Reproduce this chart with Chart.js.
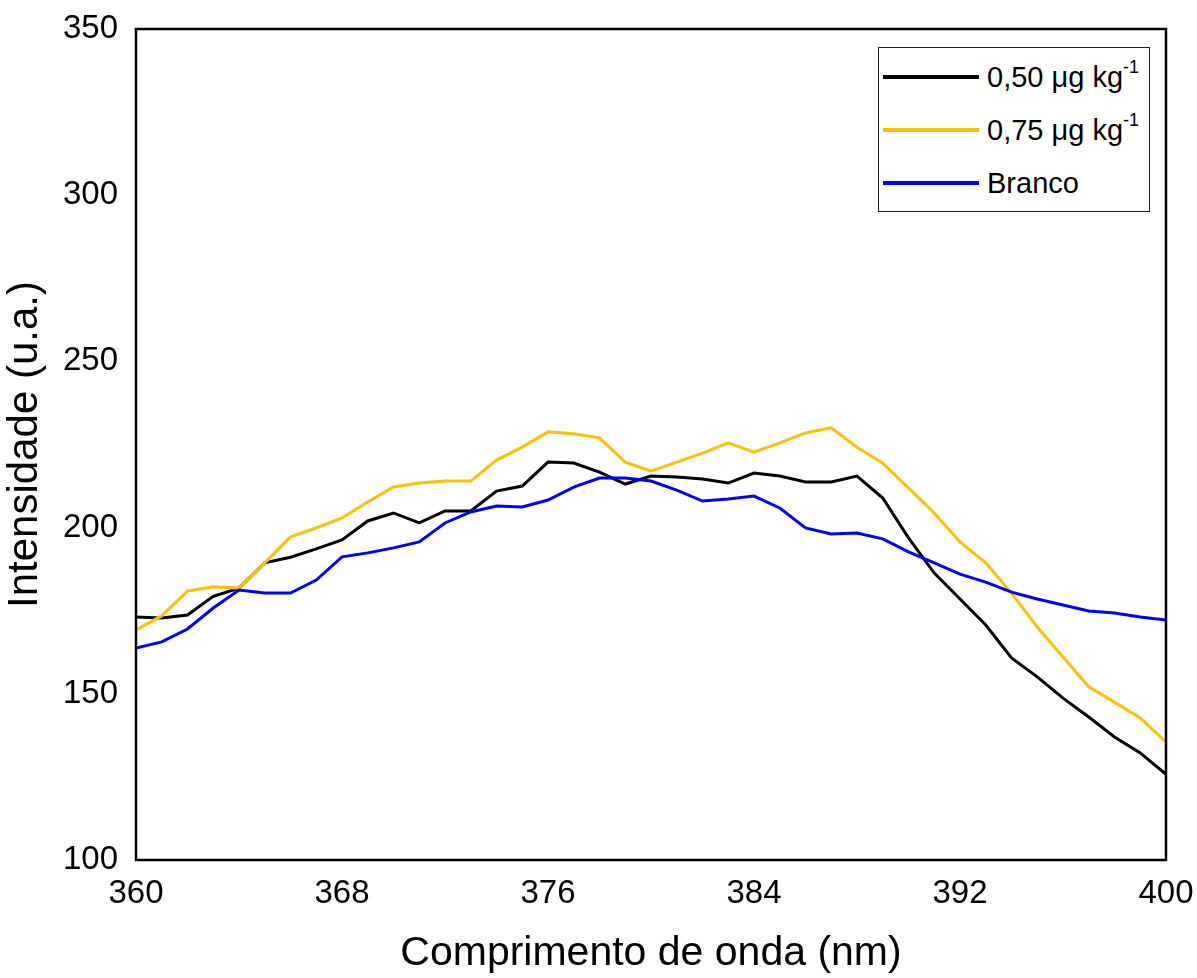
<!DOCTYPE html>
<html>
<head>
<meta charset="utf-8">
<script src="https://cdn.jsdelivr.net/npm/chart.js@4"></script>
<style>
  html, body { margin: 0; padding: 0; background: #fff; }
  #wrap { position: relative; width: 1197px; height: 978px; }
  #legend {
    position: absolute; left: 878px; top: 47px; width: 272px; height: 165px;
    border: 1.5px solid #222; background: #fff; box-sizing: border-box;
    font-family: "Liberation Sans", Arial, sans-serif; font-size: 29px; color: #000;
  }
  .item { position: absolute; left: 4px; height: 34px; display: flex; align-items: center; }
  .item span.ln { display: inline-block; width: 96px; height: 3.5px; margin-right: 8px; }
  .item sup { font-size: 18px; position: relative; top: -3px; }
</style>
</head>
<body>
<div id="wrap">
  <canvas id="chart" width="1197" height="978"></canvas>
  <div id="legend"></div>
</div>
<script>
// wavelength (nm)
const wavelengths = [360,361,362,363,364,365,366,367,368,369,370,371,372,373,374,375,376,377,378,379,380,
  381,382,383,384,385,386,387,388,389,390,391,392,393,394,395,396,397,398,399,400];

const conc050 = [173.1,172.8,173.7,179.3,181.8,189.4,191.1,193.6,196.3,202,204.4,201.4,205,205,211,212.5,219.7,219.4,216.7,213.1,215.5,
  215.2,214.6,213.4,216.4,215.5,213.7,213.7,215.5,208.9,196.9,186.3,178.5,170.7,160.8,155.1,148.7,143,137,132.2,125.8];
const conc075 = [169.2,173.5,180.9,182.2,181.8,189.4,197.2,199.9,202.9,207.7,212.2,213.4,214,214,220.3,224.2,228.8,228.2,227,219.7,217,
  219.7,222.4,225.5,222.7,225.5,228.5,230,224.2,219.4,211.9,204.4,195.7,189.4,180.3,170.1,161.1,152.1,147.5,142.7,135.5];
const branco = [163.8,165.6,169.5,175.8,181.2,180.3,180.3,184.2,191.2,192.4,193.9,195.7,201.4,204.7,206.5,206.2,208.3,212.2,214.9,214.9,214,
  211.3,208,208.6,209.5,205.9,199.9,198.1,198.4,196.6,192.7,189.4,186,183.6,180.6,178.5,176.7,174.9,174.3,173.1,172.2];

const seriesNames = ['0,50 μg kg<sup>-1</sup>', '0,75 μg kg<sup>-1</sup>', 'Branco'];
const seriesColors = ['#000000', '#FFC000', '#0000FF'];

const xTicks = [360, 368, 376, 384, 392, 400];
const yTicks = [100, 150, 200, 250, 300, 350];

const FONT = '"Liberation Sans", Arial, sans-serif';

function pts(vals) {
  return vals.map((v, i) => ({ x: wavelengths[i], y: v }));
}

// caixa em volta da área do gráfico
const frame = {
  id: 'frame',
  afterDatasetsDraw(chart) {
    const a = chart.chartArea, c = chart.ctx;
    c.save();
    c.strokeStyle = '#000';
    c.lineWidth = 2.5;
    c.strokeRect(a.left, a.top, a.right - a.left, a.bottom - a.top);
    c.restore();
  }
};

const allSeries = [conc050, conc075, branco];
const datasets = allSeries.map((s, i) => ({
  label: seriesNames[i].replace(/<[^>]+>/g, ''),
  data: pts(s),
  borderColor: seriesColors[i],
  borderWidth: 3,
  pointRadius: 0,
  tension: 0,
  fill: false,
  order: 2 - i
}));

new Chart(document.getElementById('chart').getContext('2d'), {
  type: 'line',
  data: { datasets: datasets },
  options: {
    responsive: false,
    animation: false,
    layout: { padding: { left: 0, top: 29, right: 31, bottom: 0 } },
    plugins: { legend: { display: false }, tooltip: { enabled: false } },
    scales: {
      x: {
        type: 'linear', min: 360, max: 400,
        afterBuildTicks: ax => { ax.ticks = xTicks.map(v => ({ value: v })); },
        afterFit: ax => { ax.height = 118; ax.paddingLeft = 0; ax.paddingRight = 0; },
        grid: { display: false, drawTicks: false },
        border: { display: false },
        ticks: { color: '#000', padding: 14, font: { family: FONT, size: 33 } },
        title: { display: true, text: 'Comprimento de onda (nm)', color: '#000',
                 font: { family: FONT, size: 41 }, padding: { top: 0, bottom: 0 } }
      },
      y: {
        min: 100, max: 350,
        afterBuildTicks: ax => { ax.ticks = yTicks.map(v => ({ value: v })); },
        afterFit: ax => { ax.width = 136; ax.paddingTop = 0; ax.paddingBottom = 0; },
        grid: { display: false, drawTicks: false },
        border: { display: false },
        ticks: { color: '#000', padding: 18, font: { family: FONT, size: 33 } },
        title: { display: true, text: 'Intensidade (u.a.)', color: '#000',
                 font: { family: FONT, size: 42 }, padding: { top: 0, bottom: 4 } }
      }
    }
  },
  plugins: [frame]
});

// legenda
const leg = document.getElementById('legend');
const tops = [12, 65, 118];
seriesNames.forEach((n, i) => {
  const d = document.createElement('div');
  d.className = 'item';
  d.style.top = tops[i] + 'px';
  d.innerHTML = `<span class="ln" style="background:${seriesColors[i]}"></span><span>${n}</span>`;
  leg.appendChild(d);
});
</script>
</body>
</html>
